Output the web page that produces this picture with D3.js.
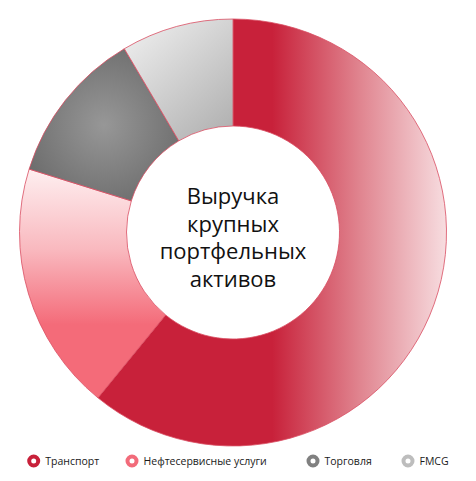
<!DOCTYPE html>
<html lang='ru'>
<head>
<meta charset='utf-8'>
<script src='https://cdn.jsdelivr.net/npm/d3@7/dist/d3.min.js'></script>
<style>
body { margin: 0; background: #fff; }
</style>
</head>
<body>
<svg id='svg' width='476' height='481'></svg>
<script>
// data (shares of revenue, %)
var categories = ['Транспорт', 'Нефтесервисные услуги', 'Торговля', 'FMCG'];
var values = [60.9, 18.9, 11.7, 8.5];
var centerLines = ['Выручка', 'крупных', 'портфельных', 'активов'];
var markerColors = ['#C8213A', '#F26B7A', '#808080', '#BDBDBD'];

var svg = d3.select('#svg');
var cx = 233, cy = 232.5, rOuter = 213.5, rInner = 106.5;

var defs = svg.append('defs');

// Транспорт: horizontal fade from dark red to pale pink
var g0 = defs.append('linearGradient').attr('id', 'grad0').attr('x1', 0).attr('x2', 1).attr('y1', 0).attr('y2', 0);
[[0, '#C8213A'], [0.5, '#C8213A'], [0.75, '#E0848F'], [1, '#F7DDE0']].forEach(s =>
  g0.append('stop').attr('offset', s[0]).attr('stop-color', s[1]));

// Нефтесервисные: vertical, pale at top
var g1 = defs.append('linearGradient').attr('id', 'grad1').attr('x1', 0).attr('x2', 0).attr('y1', 0).attr('y2', 1);
[[0, '#FEEFF0'], [0.35, '#F9B9BF'], [0.68, '#F46B79'], [1, '#F46B79']].forEach(s =>
  g1.append('stop').attr('offset', s[0]).attr('stop-color', s[1]));

// Торговля: radial grey
var g2 = defs.append('radialGradient').attr('id', 'grad2').attr('cx', 0.5).attr('cy', 0.5).attr('r', 0.6);
[[0, '#979797'], [1, '#6B6B6B']].forEach(s =>
  g2.append('stop').attr('offset', s[0]).attr('stop-color', s[1]));

// FMCG: light grey diagonal
var g3 = defs.append('linearGradient').attr('id', 'grad3').attr('x1', 0).attr('x2', 0.8).attr('y1', 0).attr('y2', 1);
[[0, '#F2F2F2'], [1, '#B3B3B3']].forEach(s =>
  g3.append('stop').attr('offset', s[0]).attr('stop-color', s[1]));

var pie = d3.pie().sort(null).value(d => d);
var arc = d3.arc().innerRadius(rInner).outerRadius(rOuter);

var chart = svg.append('g').attr('transform', 'translate(' + cx + ',' + cy + ')');

chart.selectAll('path.slice').data(pie(values)).enter().append('path')
  .attr('class', 'slice')
  .attr('d', arc)
  .attr('fill', (d, i) => 'url(#grad' + i + ')')
  .attr('stroke', '#D94E62')
  .attr('stroke-width', 0.8);

// centre caption
chart.selectAll('text.center').data(centerLines).enter().append('text')
  .attr('class', 'center')
  .attr('x', 0)
  .attr('y', (d, i) => -28.5 + i * 27.5)
  .attr('text-anchor', 'middle')
  .attr('font-family', 'Open Sans, sans-serif')
  .attr('font-size', 22)
  .attr('fill', '#111')
  .text(d => d);

// legend
var legendX = [33.7, 132, 313, 408];
var legend = svg.selectAll('g.legend').data(categories).enter().append('g')
  .attr('class', 'legend')
  .attr('transform', (d, i) => 'translate(' + legendX[i] + ',461)');

legend.append('circle').attr('r', 4.5).attr('fill', '#fff')
  .attr('stroke', (d, i) => markerColors[i]).attr('stroke-width', 4);

legend.append('text')
  .attr('x', 11.5).attr('y', 4)
  .attr('font-family', 'Open Sans, sans-serif')
  .attr('font-size', 10.5)
  .attr('fill', '#1a1a1a')
  .text(d => d);
</script>
</body>
</html>
